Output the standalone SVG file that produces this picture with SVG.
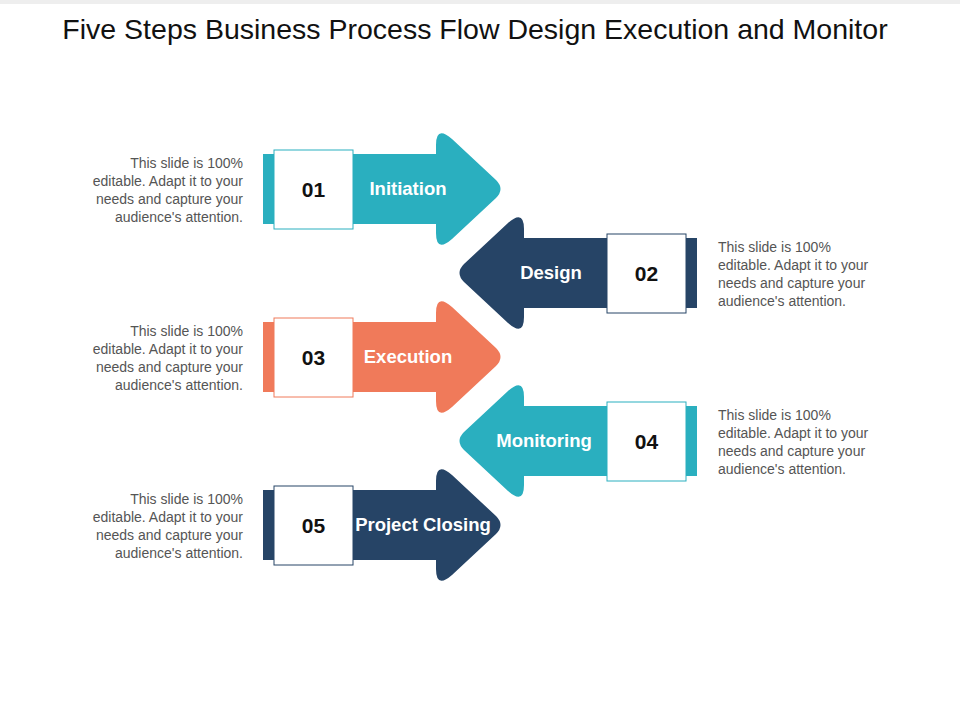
<svg xmlns="http://www.w3.org/2000/svg" xmlns:xlink="http://www.w3.org/1999/xlink" width="960" height="720" viewBox="0 0 960 720">
<style>
.t{font-family:"Liberation Sans",Arial,sans-serif}
.title{font-size:28.5px;fill:#111}
.lbl{font-size:18.5px;font-weight:bold;fill:#fff}
.num{font-size:21px;font-weight:bold;fill:#111}
.desc{font-size:14px;fill:#555}
.box{fill:#fff;stroke-width:1}
</style>
<defs>
<path id="arr" d="M263,-35 H436 V-44 Q436,-64 452,-50 L496,-9 Q505,0 496,9 L452,50 Q436,64 436,44 V35 H263 Z"/>
</defs>
<rect x="0" y="0" width="960" height="4" fill="#eee"/>
<text class="t title" x="475" y="39" text-anchor="middle">Five Steps Business Process Flow Design Execution and Monitor</text>
<g id="connectors"></g>
<g id="step1">
<use xlink:href="#arr" transform="translate(0,189)" fill="#2AAFBF"/>
<rect class="box" x="274" y="150" width="79" height="79" stroke="#2AAFBF"/>
<text class="t num" x="313.5" y="197" text-anchor="middle">01</text>
<text class="t lbl" x="408" y="195" text-anchor="middle">Initiation</text>
<text class="t desc" text-anchor="end"><tspan x="243" y="168">This slide is 100%</tspan><tspan x="243" y="186">editable. Adapt it to your</tspan><tspan x="243" y="204">needs and capture your</tspan><tspan x="243" y="222">audience's attention.</tspan></text>
</g>
<g id="step2">
<use xlink:href="#arr" transform="translate(960,273) scale(-1,1)" fill="#264466"/>
<rect class="box" x="607" y="234" width="79" height="79" stroke="#264466"/>
<text class="t num" x="646.5" y="281" text-anchor="middle">02</text>
<text class="t lbl" x="551" y="279" text-anchor="middle">Design</text>
<text class="t desc"><tspan x="718" y="252">This slide is 100%</tspan><tspan x="718" y="270">editable. Adapt it to your</tspan><tspan x="718" y="288">needs and capture your</tspan><tspan x="718" y="306">audience's attention.</tspan></text>
</g>
<g id="step3">
<use xlink:href="#arr" transform="translate(0,357)" fill="#F07A5A"/>
<rect class="box" x="274" y="318" width="79" height="79" stroke="#F07A5A"/>
<text class="t num" x="313.5" y="365" text-anchor="middle">03</text>
<text class="t lbl" x="408" y="363" text-anchor="middle">Execution</text>
<text class="t desc" text-anchor="end"><tspan x="243" y="336">This slide is 100%</tspan><tspan x="243" y="354">editable. Adapt it to your</tspan><tspan x="243" y="372">needs and capture your</tspan><tspan x="243" y="390">audience's attention.</tspan></text>
</g>
<g id="step4">
<use xlink:href="#arr" transform="translate(960,441) scale(-1,1)" fill="#2AAFBF"/>
<rect class="box" x="607" y="402" width="79" height="79" stroke="#2AAFBF"/>
<text class="t num" x="646.5" y="449" text-anchor="middle">04</text>
<text class="t lbl" x="544" y="447" text-anchor="middle">Monitoring</text>
<text class="t desc"><tspan x="718" y="420">This slide is 100%</tspan><tspan x="718" y="438">editable. Adapt it to your</tspan><tspan x="718" y="456">needs and capture your</tspan><tspan x="718" y="474">audience's attention.</tspan></text>
</g>
<g id="step5">
<use xlink:href="#arr" transform="translate(0,525)" fill="#264466"/>
<rect class="box" x="274" y="486" width="79" height="79" stroke="#264466"/>
<text class="t num" x="313.5" y="533" text-anchor="middle">05</text>
<text class="t lbl" x="423" y="531" text-anchor="middle">Project Closing</text>
<text class="t desc" text-anchor="end"><tspan x="243" y="504">This slide is 100%</tspan><tspan x="243" y="522">editable. Adapt it to your</tspan><tspan x="243" y="540">needs and capture your</tspan><tspan x="243" y="558">audience's attention.</tspan></text>
</g>
</svg>
